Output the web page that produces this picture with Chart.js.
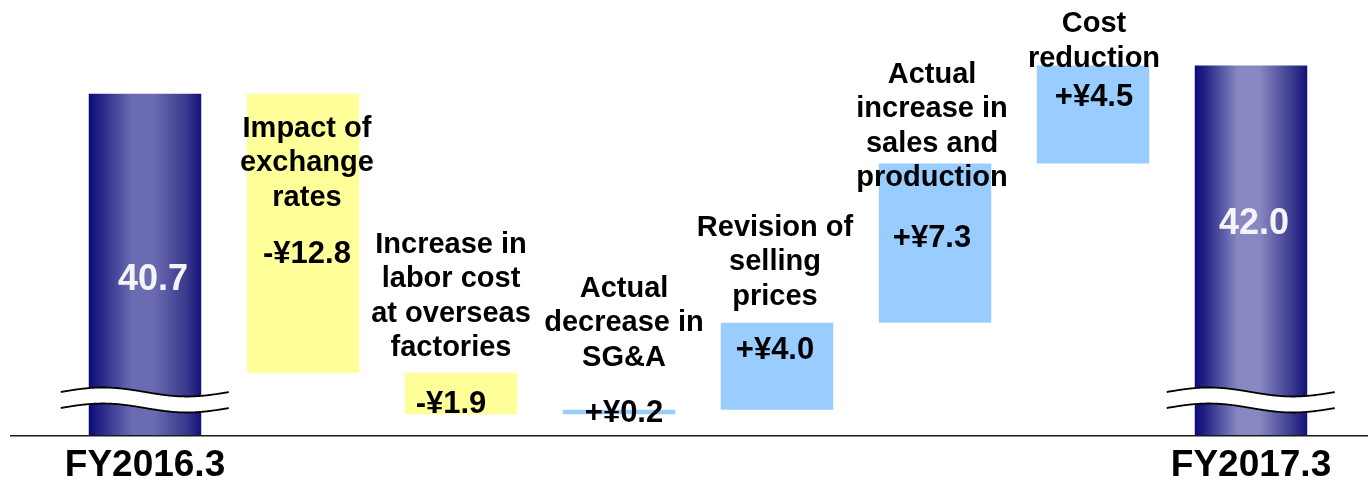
<!DOCTYPE html>
<html><head><meta charset="utf-8">
<script src="https://cdn.jsdelivr.net/npm/chart.js@4.4.1/dist/chart.umd.min.js"></script>
<style>html,body{margin:0;padding:0;background:#fff;overflow:hidden;}#wrap{width:1368px;height:480px;position:relative;}</style>
</head><body><div id="wrap"><canvas id="c"></canvas></div>
<script>
// ---- data ----
const tickLabels = ['FY2016.3', '', '', '', '', '', '', 'FY2017.3'];
const stepNames = [
  [],
  ['Impact of', 'exchange', 'rates'],
  ['Increase in', 'labor cost', 'at overseas', 'factories'],
  ['Actual', 'decrease in', 'SG&A'],
  ['Revision of', 'selling', 'prices'],
  ['Actual', 'increase in', 'sales and', 'production'],
  ['Cost', 'reduction'],
  []
];
const startValue = 40.7;
const changes = [-12.8, -1.9, 0.2, 4.0, 7.3, 4.5];
const endValue = 42.0;
const valueTexts = ['40.7', '-¥12.8', '-¥1.9', '+¥0.2', '+¥4.0', '+¥7.3', '+¥4.5', '42.0'];
const axisMin = 25;
const axisMax = 45;

// ---- build floating waterfall bars ----
const floating = [[axisMin, startValue]];
let running = startValue;
changes.forEach(d => {
  const next = Math.round((running + d) * 10) / 10;
  floating.push([running, next]);
  running = next;
});
floating.push([axisMin, endValue]);

// ---- style (not data) ----
const style = {
  barPct: 0.712,
  yellow: '#ffff99',
  blue: '#99ccff',
  font: '"Liberation Sans", Arial, sans-serif',
  labelTop: [0, 43, -120, -113, -87, -81, -33, 0],
  valueTop: [196, 169, 40, 12, 36, 83, 41, 169],
  xShift: [8, 4, -10, 5, -2, -3, 1, 3],
  lineGap: 34.5,
  tickBaselineGap: 40
};

function totalGradient(chart, i) {
  const xs = chart.scales.x;
  if (!chart.chartArea || !xs) return '#3a3a96';
  const xc = xs.getPixelForValue(i);
  const w = (xs.width / tickLabels.length) * style.barPct;
  const g = chart.ctx.createLinearGradient(xc - w / 2, 0, xc + w / 2, 0);
  const mid = i === 0 ? '#6b6bb1' : '#8787c2';
  g.addColorStop(0, '#0a0a78');
  g.addColorStop(0.08, '#1f1f84');
  g.addColorStop(0.38, mid);
  g.addColorStop(0.58, mid);
  g.addColorStop(0.88, '#36368c');
  g.addColorStop(1, '#121278');
  return g;
}

const decor = {
  id: 'decor',
  afterDatasetsDraw(chart) {
    const ctx = chart.ctx;
    const ca = chart.chartArea;
    const xs = chart.scales.x;
    const meta = chart.getDatasetMeta(0);
    ctx.save();
    // baseline
    ctx.strokeStyle = '#1a1a1a';
    ctx.lineWidth = 1.5;
    ctx.beginPath();
    ctx.moveTo(10, ca.bottom - 0.25);
    ctx.lineTo(chart.width, ca.bottom - 0.25);
    ctx.stroke();

    // axis break marks on total bars
    [0, meta.data.length - 1].forEach(i => {
      const el = meta.data[i];
      const left = el.x - el.width / 2 - 28;
      const right = el.x + el.width / 2 + 28;
      const y1 = ca.bottom - 44, y2 = ca.bottom - 28, amp = 4.5;
      const fy = (x, yc) => yc - amp * Math.sin(2 * Math.PI * (x - left) / (right - left));
      ctx.beginPath();
      for (let x = left; x <= right; x += 1) { const y = fy(x, y1); x === left ? ctx.moveTo(x, y) : ctx.lineTo(x, y); }
      for (let x = right; x >= left; x -= 1) ctx.lineTo(x, fy(x, y2));
      ctx.closePath();
      ctx.fillStyle = '#ffffff';
      ctx.fill();
      ctx.strokeStyle = '#000';
      ctx.lineWidth = 1.8;
      [y1, y2].forEach(yc => {
        ctx.beginPath();
        for (let x = left; x <= right; x += 1) { const y = fy(x, yc); x === left ? ctx.moveTo(x, y) : ctx.lineTo(x, y); }
        ctx.stroke();
      });
    });

    // category tick labels
    ctx.textAlign = 'center';
    ctx.textBaseline = 'alphabetic';
    ctx.fillStyle = '#000';
    ctx.font = 'bold 37px ' + style.font;
    tickLabels.forEach((t, i) => {
      if (t) ctx.fillText(t, xs.getPixelForValue(i), ca.bottom + style.tickBaselineGap);
    });

    // annotation texts
    meta.data.forEach((el, i) => {
      const top = Math.min(el.y, el.base);
      const cx = el.x + style.xShift[i];
      const isTotal = stepNames[i].length === 0;
      ctx.fillStyle = '#000';
      ctx.font = 'bold 29px ' + style.font;
      stepNames[i].forEach((line, k) => {
        ctx.fillText(line, cx, top + style.labelTop[i] + k * style.lineGap);
      });
      if (isTotal) {
        ctx.fillStyle = '#f4f4f8';
        ctx.font = 'bold 36px ' + style.font;
      } else {
        ctx.font = 'bold 31px ' + style.font;
      }
      ctx.fillText(valueTexts[i], cx, top + style.valueTop[i]);
    });
    ctx.restore();
  }
};

new Chart(document.getElementById('c'), {
  type: 'bar',
  data: {
    labels: tickLabels,
    datasets: [{
      data: floating,
      backgroundColor: (c) => {
        const i = c.dataIndex;
        if (i === 0 || i === tickLabels.length - 1) return totalGradient(c.chart, i);
        const d = floating[i][1] - floating[i][0];
        return d < 0 ? style.yellow : style.blue;
      },
      borderWidth: 0,
      borderSkipped: false,
      barPercentage: style.barPct,
      categoryPercentage: 1
    }]
  },
  options: {
    responsive: true,
    maintainAspectRatio: false,
    animation: false,
    devicePixelRatio: 1,
    layout: { padding: { left: 66, right: 38, top: 0, bottom: 44 } },
    plugins: { legend: { display: false }, tooltip: { enabled: false } },
    scales: {
      x: { display: false },
      y: { display: false, min: axisMin, max: axisMax }
    }
  },
  plugins: [decor]
});
</script>
</body></html>
